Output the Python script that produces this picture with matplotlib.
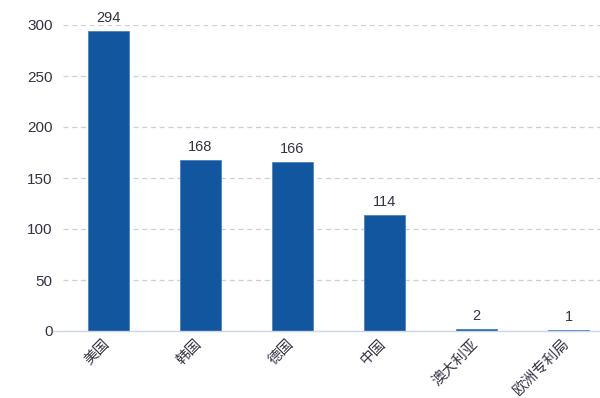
import matplotlib
matplotlib.use('Agg')
import matplotlib.pyplot as plt
import matplotlib.transforms as mtransforms

plt.rcParams['font.family'] = ['Noto Sans CJK SC', 'DejaVu Sans']

countries = ['美国', '韩国', '德国', '中国', '澳大利亚', '欧洲专利局']
counts = [294, 168, 166, 114, 2, 1]
yticks = [0, 50, 100, 150, 200, 250, 300]

fig = plt.figure(figsize=(6, 3.98), dpi=100)
ax = fig.add_axes([62.5/600, 67/398, 552/600, 306/398])

x = range(len(countries))
bars = ax.bar(x, counts, width=0.445, color='#11569e', edgecolor='#4a82c0', linewidth=0.6, zorder=3)
for xi, v in zip(x, counts):
    ax.text(xi, v + 6, str(v), ha='center', va='bottom', fontsize=10.5, color='#333344',
            family='Liberation Sans')

ax.set_xlim(-0.5, len(countries) - 0.5)
ax.set_ylim(0, 300)
ax.set_yticks(yticks)
ax.set_yticklabels([str(t) for t in yticks], family='Liberation Sans', fontsize=11, color='#333344')
ax.set_xticks(list(x))
ax.set_xticklabels(countries, rotation=45, ha='right', rotation_mode='anchor', fontsize=10.5, color='#333344')
ax.tick_params(axis='both', length=0)
ax.tick_params(axis='y', pad=7)
ax.tick_params(axis='x', pad=4)
shift = mtransforms.ScaledTranslation(-4/72, 0, fig.dpi_scale_trans)
for lbl in ax.get_xticklabels():
    lbl.set_transform(lbl.get_transform() + shift)

ax.yaxis.grid(True, linestyle=(0, (4, 3)), color='#cfcfd8', linewidth=0.9, zorder=0)
for s in ['top', 'right', 'left']:
    ax.spines[s].set_visible(False)
ax.spines['bottom'].set_color('#ccd6eb')
ax.spines['bottom'].set_linewidth(1)
ax.spines['bottom'].set_bounds(-0.6, len(countries) - 0.5)
ax.spines['bottom'].set_zorder(4)

fig.savefig('out.png', dpi=100)
